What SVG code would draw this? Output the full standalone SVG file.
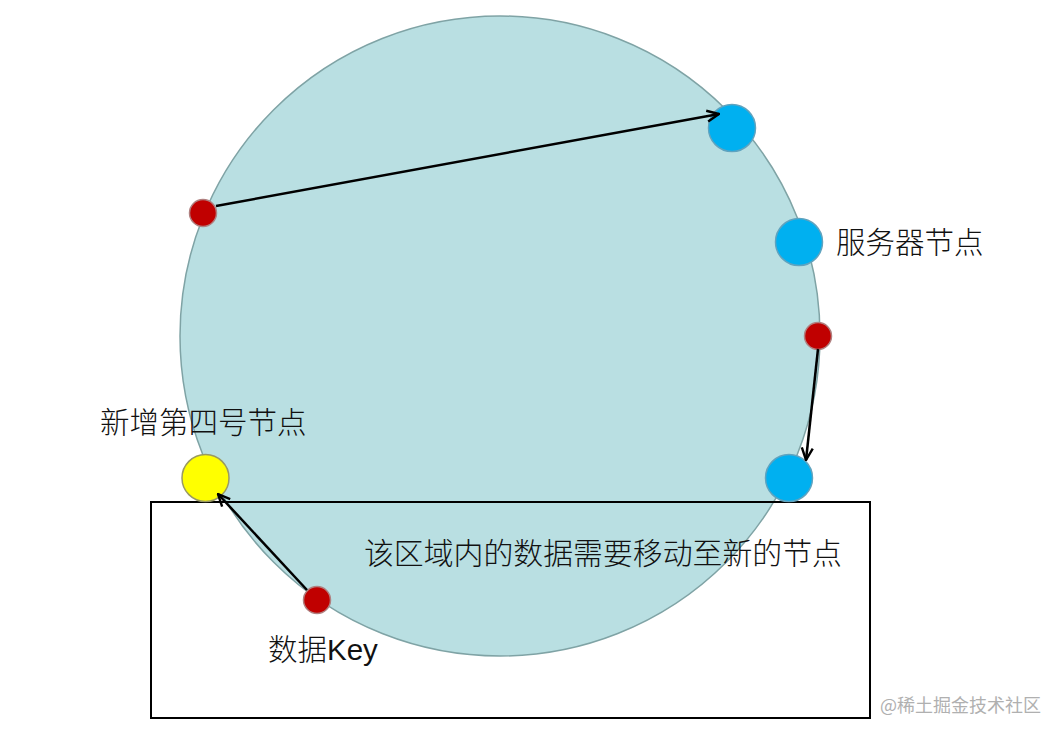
<svg xmlns="http://www.w3.org/2000/svg" width="1063" height="736" viewBox="0 0 1063 736">
<style>
.cjk{font-family:"Noto Sans CJK SC","Liberation Sans",sans-serif;font-size:29.5px;font-weight:300;fill:#111}
.lat{font-family:"Liberation Sans","Noto Sans CJK SC",sans-serif;font-size:29.5px;fill:#111}
.blue{fill:#00b0f0;stroke:#5fa3bf;stroke-width:1.5}
.red{fill:#c00000;stroke:#b08080;stroke-width:1.5}
.yellow{fill:#ffff00;stroke:#9a9a60;stroke-width:1.5}
.conn{stroke:#000;stroke-width:2.5;fill:none;marker-end:url(#arr)}
</style>
<defs>
<marker id="arr" viewBox="0 0 14 14" refX="13" refY="7" markerWidth="14" markerHeight="14" markerUnits="userSpaceOnUse" orient="auto">
<path d="M1,1.5 L13,7 L1,12.5" fill="none" stroke="#000" stroke-width="2.4"/>
</marker>
</defs>
<rect width="1063" height="736" fill="#fff"/>
<g id="ring">
<circle cx="500" cy="336" r="320" fill="#b9dfe2" stroke="#7fa3a5" stroke-width="1.5"/>
</g>
<g id="region">
<rect x="151" y="502" width="719" height="216" fill="none" stroke="#000" stroke-width="2"/>
<text class="cjk" x="364" y="564" textLength="478" lengthAdjust="spacingAndGlyphs">该区域内的数据需要移动至新的节点</text>
</g>
<g id="server1"><circle class="blue" cx="732" cy="128" r="23.5"/></g>
<g id="server2"><circle class="blue" cx="799" cy="242" r="23.5"/>
<text class="cjk" x="836" y="253">服务器节点</text></g>
<g id="server3"><circle class="blue" cx="789" cy="478" r="23.5"/></g>
<g id="node4"><circle class="yellow" cx="205.5" cy="478" r="23.5"/>
<text class="cjk" x="100" y="433">新增第四号节点</text></g>
<g id="key1"><circle class="red" cx="203" cy="213" r="13.5"/></g>
<g id="key2"><circle class="red" cx="818" cy="336" r="13.5"/></g>
<g id="key3"><circle class="red" cx="317" cy="600" r="13.5"/>
<text x="268" y="660"><tspan class="cjk">数据</tspan><tspan class="lat">Key</tspan></text></g>
<g id="connectors">
<line class="conn" x1="216" y1="206" x2="719" y2="114"/>
<line class="conn" x1="818" y1="349" x2="806" y2="460"/>
<line class="conn" x1="307" y1="590" x2="218" y2="494"/>
</g>
<text x="880" y="712" font-family="'Noto Sans CJK SC','Liberation Sans',sans-serif" font-size="18" fill="#b0b0b0">@稀土掘金技术社区</text>
</svg>
